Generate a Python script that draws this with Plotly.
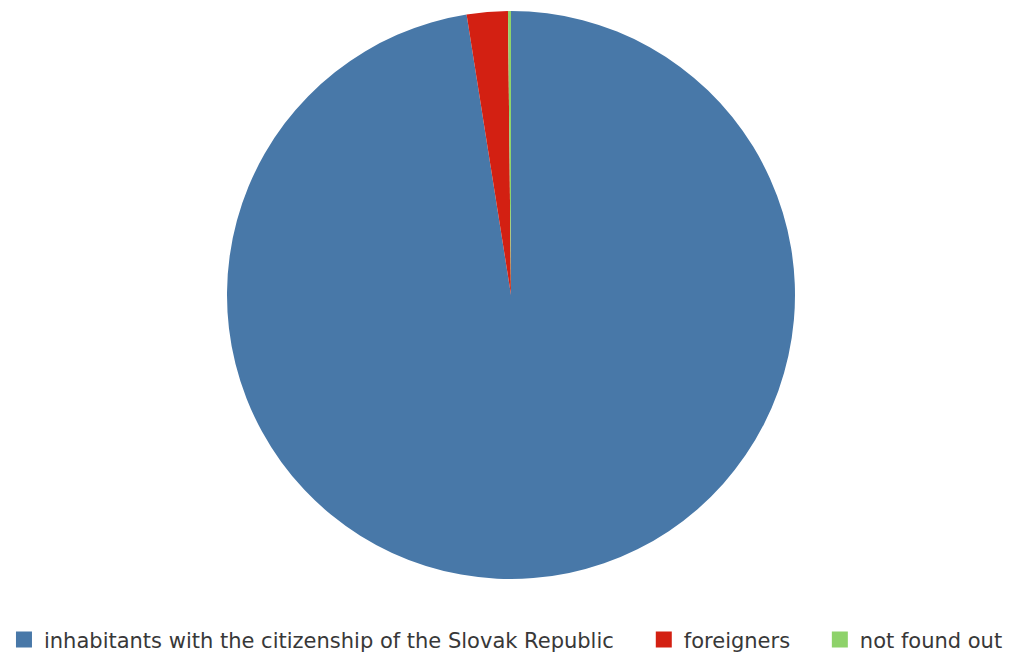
import plotly.graph_objects as go

labels = ["inhabitants with the citizenship of the Slovak Republic", "foreigners", "not found out"]
values = [97.5, 2.33, 0.17]
colors = ["#4878a8", "#d32012", "#8ed26a"]
legend_x = [-0.004, 0.632, 0.807]

fig = go.Figure()
fig.add_trace(go.Pie(
    labels=labels,
    values=values,
    sort=False,
    direction="clockwise",
    rotation=0,
    marker=dict(colors=colors, line=dict(width=0)),
    textinfo="none",
    hoverinfo="label+percent",
    showlegend=False,
))

legend_names = ["legend", "legend2", "legend3"]
for lab, col, lg in zip(labels, colors, legend_names):
    fig.add_trace(go.Scatter(
        x=[None], y=[None], mode="markers", name=lab,
        marker=dict(symbol="square", size=16, color=col),
        legend=lg, showlegend=True, hoverinfo="skip",
    ))

common = dict(
    orientation="h",
    xanchor="left",
    y=-0.107,
    yanchor="middle",
    bgcolor="rgba(0,0,0,0)",
    font=dict(family="DejaVu Sans", size=21, color="#383838"),
)

fig.update_layout(
    width=1012,
    height=654,
    margin=dict(l=0, r=6, t=3, b=83, autoexpand=False),
    paper_bgcolor="white",
    plot_bgcolor="white",
    showlegend=True,
    xaxis=dict(visible=False),
    yaxis=dict(visible=False),
    legend=dict(x=legend_x[0], **common),
    legend2=dict(x=legend_x[1], **common),
    legend3=dict(x=legend_x[2], **common),
)

fig.write_html("out.html")
